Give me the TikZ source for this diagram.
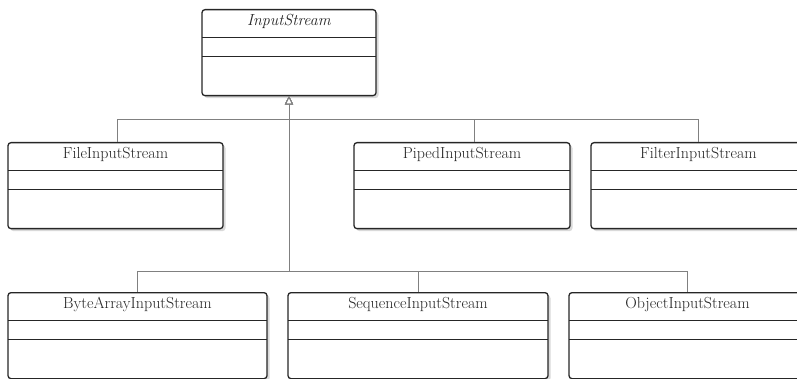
\documentclass[tikz,border=0pt]{standalone}
\usetikzlibrary{arrows.meta,shadows}
\begin{document}
\begin{tikzpicture}[x=1pt, y=-1pt,
    classbox/.style={draw=black!85, line width=1.3pt, rounded corners=3pt, fill=white,
      drop shadow={shadow xshift=2.5pt, shadow yshift=-2.5pt, opacity=0.3},
      inner sep=0pt, anchor=north, text height=16pt, text depth=70pt,
      text=black!85, font=\fontsize{16}{19}\selectfont,
      path picture={
        \draw[black!85, line width=1.3pt]
          ([yshift=-28pt]path picture bounding box.north west) -- ([yshift=-28pt]path picture bounding box.north east)
          ([yshift=-47pt]path picture bounding box.north west) -- ([yshift=-47pt]path picture bounding box.north east);}},
    inherit/.style={draw=black!50, line width=1pt, -{Triangle[open, length=8pt, width=8pt, fill=white]}}]
      \useasboundingbox (0,0) rectangle (797,379);
      \node[classbox, minimum width=174pt] (input) at (289,9) {\textit{InputStream}};
      \node[classbox, minimum width=215pt] (file) at (115.5,142) {FileInputStream};
      \node[classbox, minimum width=216pt] (piped) at (462,142) {PipedInputStream};
      \node[classbox, minimum width=215pt] (filter) at (698.5,142) {FilterInputStream};
      \node[classbox, minimum width=259pt] (bytearray) at (137.5,292) {ByteArrayInputStream};
      \node[classbox, minimum width=260pt] (sequence) at (418,292) {SequenceInputStream};
      \node[classbox, minimum width=237pt] (object) at (687.5,292) {ObjectInputStream};
      \draw[inherit] ([xshift=1.5pt]file.north) -- ++(0,-22) -| (input.south);
      \draw[inherit] ([xshift=12pt]piped.north) -- ++(0,-22) -| (input.south);
      \draw[inherit] (filter.north) -- ++(0,-22) -| (input.south);
      \draw[inherit] (bytearray.north) -- ++(0,-21) -| (input.south);
      \draw[inherit] (sequence.north) -- ++(0,-21) -| (input.south);
      \draw[inherit] (object.north) -- ++(0,-21) -| (input.south);
    \end{tikzpicture}
\end{document}
